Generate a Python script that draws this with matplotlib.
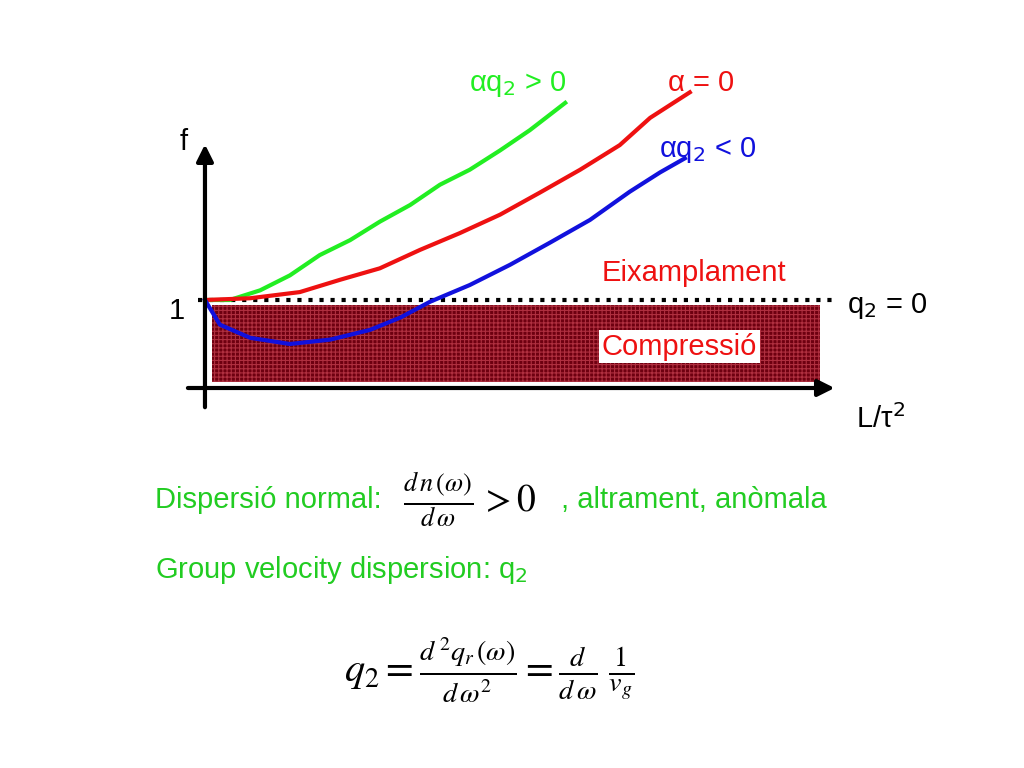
import matplotlib.pyplot as plt
from matplotlib.patches import Rectangle

plt.rcParams['font.family'] = 'Liberation Sans'
plt.rcParams['hatch.linewidth'] = 0.8

# curves: x = L/tau^2, y = f
green_x = [0, 0.40, 0.89, 1.37, 1.85, 2.34, 2.82, 3.31, 3.79, 4.27, 4.76, 5.24, 5.81]
green_y = [1.0, 1.0, 1.11, 1.28, 1.51, 1.68, 1.89, 2.08, 2.31, 2.48, 2.70, 2.93, 3.24]
red_x = [0, 0.73, 1.53, 2.18, 2.82, 3.47, 4.11, 4.76, 5.40, 6.05, 6.69, 7.18, 7.82]
red_y = [1.0, 1.02, 1.09, 1.23, 1.36, 1.57, 1.76, 1.97, 2.22, 2.48, 2.76, 3.07, 3.36]
blue_x = [0, 0.24, 0.73, 1.37, 2.02, 2.66, 3.15, 3.63, 4.27, 4.92, 5.56, 6.21, 6.85, 7.34, 7.74]
blue_y = [1.0, 0.72, 0.57, 0.50, 0.55, 0.66, 0.80, 0.98, 1.17, 1.40, 1.65, 1.91, 2.23, 2.45, 2.61]

fig = plt.figure(figsize=(10.24, 7.68), dpi=100)
ax = fig.add_axes([0, 0, 1, 1])
ax.set_xlim(-3.306, 13.21)
ax.set_ylim(-4.318, 4.409)
ax.axis('off')

# compression region
ax.add_patch(Rectangle((0.11, 0.07), 9.81, 0.87, facecolor='#6e0010',
                       hatch='++++', edgecolor='#b03040', lw=0))
ax.plot([-0.11, 10.15], [1, 1], color='black', ls=':', lw=3)

# axes arrows
ax.annotate('', xy=(0, 2.8), xytext=(0, -0.25),
            arrowprops=dict(arrowstyle='-|>', color='black', lw=3, mutation_scale=25))
ax.annotate('', xy=(10.2, 0), xytext=(-0.32, 0),
            arrowprops=dict(arrowstyle='-|>', color='black', lw=3, mutation_scale=25))

ax.plot(green_x, green_y, color='#22ee22', lw=3)
ax.plot(red_x, red_y, color='#ee1111', lw=3)
ax.plot(blue_x, blue_y, color='#1111dd', lw=3)

fs = 21
ax.text(5.05, 3.38, 'αq$_2$ > 0', color='#22ee22', fontsize=fs, ha='center')
ax.text(8.0, 3.38, 'α = 0', color='#ee1111', fontsize=fs, ha='center')
ax.text(8.1, 2.62, 'αq$_2$ < 0', color='#1111dd', fontsize=fs, ha='center')
ax.text(-0.35, 2.7, 'f', fontsize=fs, ha='center')
ax.text(-0.45, 0.78, '1', fontsize=fs, ha='center')
ax.text(10.35, 0.85, 'q$_2$ = 0', fontsize=fs)
ax.text(10.5, -0.45, 'L/τ$^2$', fontsize=fs)
ax.text(6.4, 1.22, 'Eixamplament', color='#ee1111', fontsize=fs)
ax.text(6.4, 0.38, 'Compressió', color='#ee1111', fontsize=fs,
        bbox=dict(facecolor='white', edgecolor='none', pad=2))

ax.text(-0.8, -1.27, 'Dispersió normal:', color='#22cc22', fontsize=fs, va='center')
ax.text(3.2, -1.27, r'$\frac{d\,n\,(\omega)}{d\,\omega}\,> 0$', fontsize=fs + 6,
        va='center', math_fontfamily='stix')
ax.text(5.75, -1.27, ', altrament, anòmala', color='#22cc22', fontsize=fs, va='center')
ax.text(-0.8, -2.07, 'Group velocity dispersion: q$_2$', color='#22cc22',
        fontsize=fs, va='center')
ax.text(2.25, -3.2, r'$q_2 = \frac{d^{\,2} q_r\,(\omega)}{d\,\omega^2} = \frac{d}{d\,\omega}\;\frac{1}{v_g}$',
        fontsize=fs + 8, va='center', math_fontfamily='stix')

fig.savefig('out.png', dpi=100)
